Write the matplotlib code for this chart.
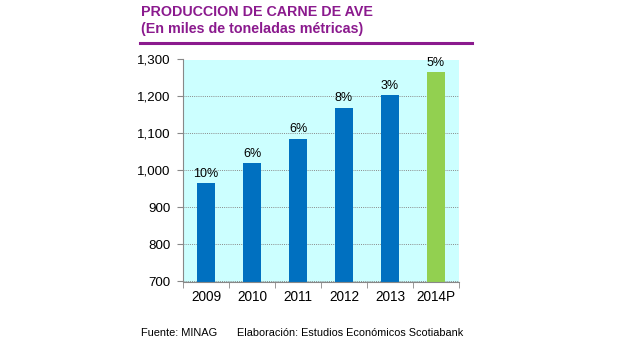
import matplotlib
matplotlib.use("Agg")
import matplotlib.pyplot as plt
from matplotlib.lines import Line2D

categories = ["2009", "2010", "2011", "2012", "2013", "2014P"]
values = [965, 1020, 1086, 1170, 1203, 1265]
growth = ["10%", "6%", "6%", "8%", "3%", "5%"]
yticks = [700, 800, 900, 1000, 1100, 1200, 1300]

plt.rcParams['font.family'] = ['Liberation Sans', 'DejaVu Sans']

W, H = 619, 347
fig = plt.figure(figsize=(W/100, H/100), dpi=100)
left, right, top, bottom = 183, 459, 59.5, 281.5
ax = fig.add_axes([left/W, 1-bottom/H, (right-left)/W, (bottom-top)/H])
ax.set_facecolor("#CCFFFF")

colors = ["#0070C0"]*5 + ["#92D050"]
x = list(range(len(categories)))
ax.bar(x, values, width=0.4, color=colors, zorder=3, bottom=0)
ax.set_ylim(700, 1300)
ax.set_xlim(-0.5, len(categories)-0.5)
ax.set_yticks(yticks)
ax.set_yticklabels([f"{v:,}" for v in yticks], fontsize=9.6)
ax.yaxis.grid(True, linestyle=(0, (1, 1.2)), color="#8a8a8a", linewidth=0.7, zorder=1)
ax.set_xticks(x)
ax.set_xticklabels(categories, fontsize=9.8)
ax.tick_params(axis='x', length=0, pad=6)
ax.tick_params(axis='y', length=4, color="#888888", pad=5)
ax.set_xticks([i+0.5 for i in range(-1, len(categories))], minor=True)
ax.tick_params(axis='x', which='minor', length=4, color="#888888")
for s in ["top", "right"]:
    ax.spines[s].set_visible(False)
for s in ["left", "bottom"]:
    ax.spines[s].set_color("#888888")
    ax.spines[s].set_zorder(4)

for xi, v, g in zip(x, values, growth):
    ax.annotate(g, (xi, v), xytext=(0, 2.5), textcoords="offset points",
                ha="center", va="bottom", fontsize=9)

purple = "#8B1A8E"
fig.text(141/W, 1-12/H, "PRODUCCION DE CARNE DE AVE", color=purple,
         fontsize=10.3, fontweight="bold", va="center", ha="left")
fig.text(141/W, 1-29/H, "(En miles de toneladas métricas)", color=purple,
         fontsize=10.3, fontweight="bold", va="center", ha="left")
fig.add_artist(Line2D([140/W, 472/W], [1-43/H, 1-43/H], color=purple, linewidth=2.2))

fig.text(141/W, 1-333/H, "Fuente: MINAG", fontsize=7.9, va="center", ha="left")
fig.text(237/W, 1-333/H, "Elaboración: Estudios Económicos Scotiabank", fontsize=7.8,
         va="center", ha="left")

fig.savefig("out.png", dpi=100, facecolor="white")
